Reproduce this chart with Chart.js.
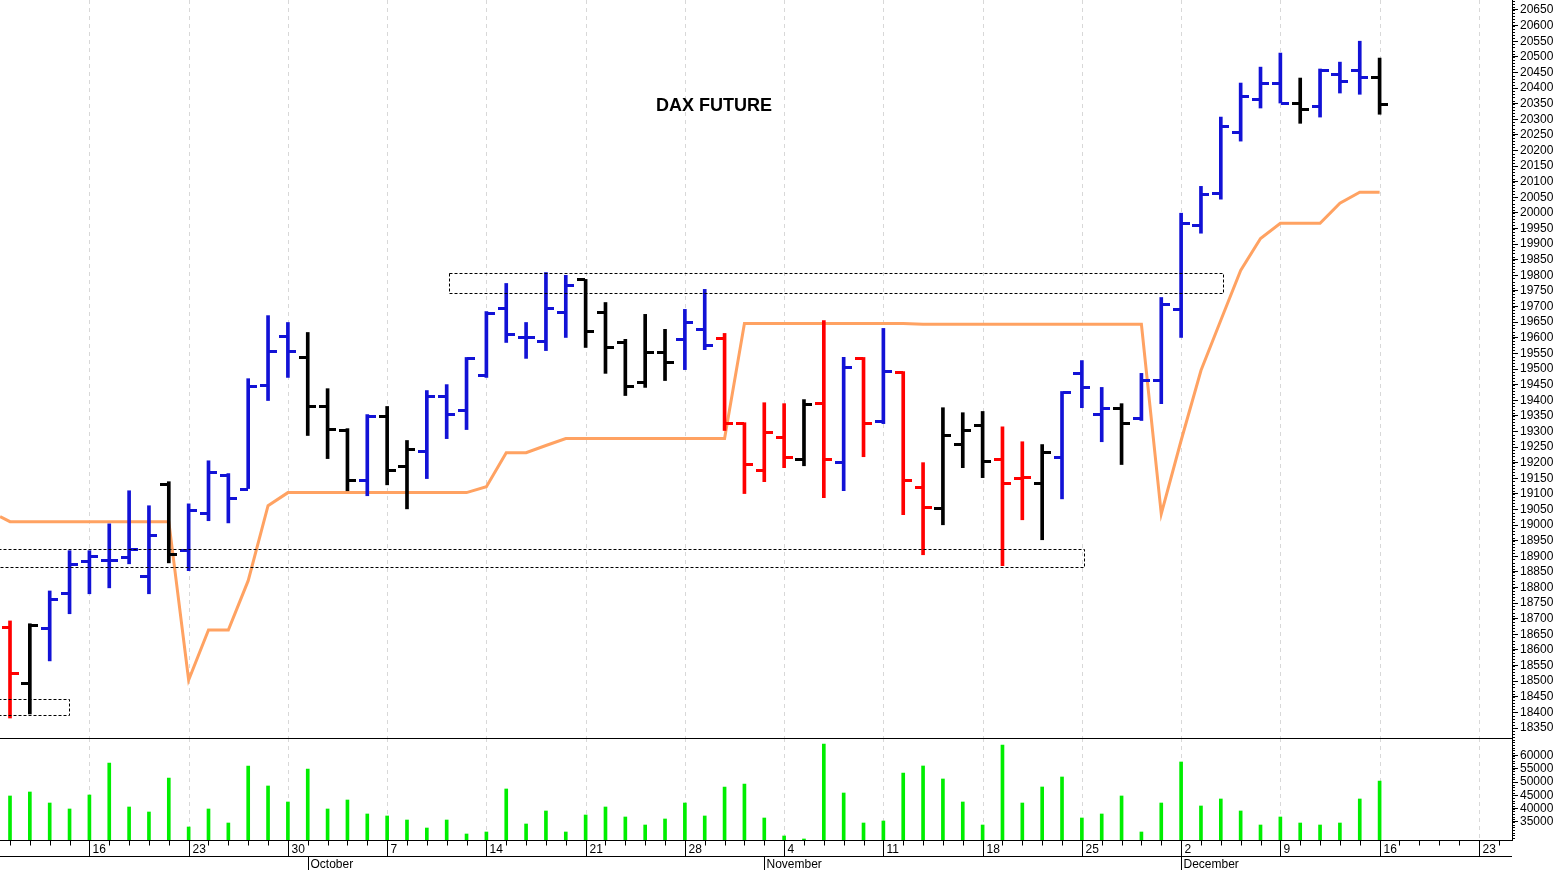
<!DOCTYPE html>
<html><head><meta charset="utf-8">
<script src="https://cdn.jsdelivr.net/npm/chart.js@4"></script>
<style>
html,body{margin:0;padding:0;background:#fff;width:1560px;height:870px;overflow:hidden}
#p{position:absolute;left:0;top:0}
#v{position:absolute;left:0;top:738px}
</style></head><body>
<canvas id="p" width="1560" height="738"></canvas>
<canvas id="v" width="1560" height="132"></canvas>
<script>
// ---- data (Sep 10 .. Dec 16, trading days) ----
const opens  = [18674,18494,18671,18783,18886,18889,18898,18837,19133,18921,19040,19161,19117,19450,19607,19540,19380,19303,19145,19348,19190,19238,19415,19370,19482,19694,19601,19591,19681,19787,19681,19585,19457,19553,19595,19627,19598,19328,19177,19283,19213,19392,19203,19534,19335,19489,19123,19056,19261,19322,19213,19152,19136,19219,19486,19357,19376,19344,19466,19691,19960,20063,20259,20364,20416,20352,20342,20445,20457,20435];
const highs  = [18693,18684,18789,18918,18918,19004,19110,19062,19139,19068,19206,19165,19469,19671,19649,19617,19437,19309,19354,19380,19271,19431,19450,19537,19684,19774,19649,19809,19800,19787,19713,19595,19675,19627,19691,19755,19614,19328,19392,19389,19402,19655,19537,19537,19630,19492,19200,19376,19360,19364,19315,19267,19258,19428,19527,19441,19389,19486,19729,19999,20085,20307,20416,20467,20512,20432,20461,20483,20550,20496];
const lows   = [18382,18395,18565,18716,18780,18799,18876,18780,18879,18854,19014,19007,19117,19399,19473,19287,19213,19110,19094,19129,19052,19149,19277,19306,19473,19585,19534,19559,19601,19569,19486,19415,19441,19463,19498,19562,19303,19101,19139,19184,19190,19088,19110,19219,19325,19033,18905,19001,19184,19152,18870,19017,18953,19084,19376,19267,19194,19335,19389,19601,19935,20044,20230,20336,20352,20287,20307,20384,20380,20316];
const closes = [18526,18680,18764,18876,18902,18889,18924,18969,18908,19049,19171,19088,19444,19559,19559,19380,19309,19145,19351,19177,19245,19415,19357,19534,19678,19611,19601,19694,19768,19623,19572,19444,19553,19521,19649,19578,19328,19197,19299,19219,19389,19213,19508,19328,19495,19145,19059,19287,19303,19206,19136,19155,19235,19425,19441,19376,19328,19466,19707,19967,20060,20278,20374,20416,20352,20332,20457,20422,20435,20348];
const barColors = "rkbbbbbbkbbbbbbkkkbkkbbbbbbbbkkkkkbbrrrrkrbrbrrkkkrrkbbbkbbbbbbbbkbbbk";
const stopX    = [-0.5];
const stopPre  = [19027];
const stopLine = [19011,19011,19011,19011,19011,19011,19011,19011,19011,18504,18664,18664,18822,19062,19104,19104,19104,19104,19104,19104,19104,19104,19104,19104,19123,19232,19232,19255,19277,19277,19277,19277,19277,19277,19277,19277,19277,19646,19646,19646,19646,19646,19646,19646,19646,19646,19643,19643,19643,19643,19643,19643,19643,19643,19643,19643,19643,19643,19036,19271,19495,19656,19816,19918,19967,19967,19967,20031,20066,20066];
const volumes = [44780,46280,42140,39890,45150,57180,40640,38760,51540,33120,39890,34620,56060,48540,42520,54930,39890,43270,38010,37260,35750,32740,35750,30490,31240,47410,34250,39140,31240,37630,40640,36880,33870,36130,42140,37260,48160,49290,36500,29740,28610,64330,45900,34620,35380,53420,56060,51170,42520,33870,63950,42140,48160,51920,36500,38010,44780,31240,42140,57560,41020,43650,39140,33870,36880,34620,33870,34620,43650,50420];
const mondayIdx = [4,9,14,19,24,29,34,39,44,49,54,59,64,69,74];
const mondayLabels = ["16","23","30","7","14","21","28","4","11","18","25","2","9","16","23"];
const monthIdx = [15,38,59];
const monthLabels = ["October","November","December"];
const boxes = [[-0.6,2.97,18443,18392],[-0.6,54.1,18924,18866],[22.1,61.1,19806,19745]];
const priceTicks = []; for(let p=18350;p<=20650;p+=50) priceTicks.push(p);
const volTicks = [35000,40000,45000,50000,55000,60000];
const title = "DAX FUTURE";

const XMIN=-0.504, XMAX=75.67, AXW=48;
const FONT='"Liberation Sans", Arial, sans-serif';
const col = c => c==='r'?'#ff0000':(c==='b'?'#1212d6':'#000000');
const idx = opens.map((_,i)=>i);

function gridPlugin(){
  return {id:'grid',beforeDatasetsDraw(ch){
    const c=ch.ctx,x=ch.scales.x,a=ch.chartArea;
    c.save();c.strokeStyle='#d8d8d8';c.lineWidth=1;c.setLineDash([4,4]);
    mondayIdx.forEach(i=>{const px=Math.round(x.getPixelForValue(i))+0.5;c.beginPath();c.moveTo(px,a.top);c.lineTo(px,a.bottom);c.stroke();});
    c.restore();
  }};
}
function minorTicks(ch,axisId,step,lo,hi){
  const c=ch.ctx,y=ch.scales[axisId],a=ch.chartArea;
  c.save();c.strokeStyle='#000';c.lineWidth=1;
  for(let v=lo;v<=hi;v+=step){const py=Math.round(y.getPixelForValue(v))+0.5;c.beginPath();c.moveTo(a.right,py);c.lineTo(a.right+3,py);c.stroke();}
  c.restore();
}
const yTickOpts = {font:{family:FONT,size:12},color:'#000',padding:2,autoSkip:false,callback:v=>String(v)};
const fitY = ax => {ax.width=AXW;ax.paddingTop=0;ax.paddingBottom=0;};

const stopData = stopX.map((x,k)=>({x,y:stopPre[k]})).concat(idx.map(i=>({x:i,y:stopLine[i]})));

const priceChart = new Chart(document.getElementById('p'),{
  data:{datasets:[
    {type:'line',data:stopData,borderColor:'#ffa262',borderWidth:3,pointRadius:0,tension:0,order:2},
    {type:'bar',data:idx.map(i=>({x:i,y:[lows[i],highs[i]]})),backgroundColor:idx.map(i=>col(barColors[i])),barThickness:3,borderWidth:0,order:1}
  ]},
  options:{responsive:false,animation:false,devicePixelRatio:1,
    layout:{padding:0},
    plugins:{legend:{display:false},tooltip:{enabled:false}},
    scales:{
      x:{type:'linear',min:XMIN,max:XMAX,offset:false,display:false},
      y:{position:'right',min:18318,max:20682,
         afterBuildTicks(ax){ax.ticks=priceTicks.map(v=>({value:v}));},
         afterFit:fitY,
         grid:{drawOnChartArea:false,tickLength:6,color:'#000'},
         border:{color:'#000'},
         ticks:yTickOpts}
    }},
  plugins:[gridPlugin(),{id:'ohlc',afterDatasetsDraw(ch){
    const c=ch.ctx,x=ch.scales.x,y=ch.scales.y;
    c.save();
    idx.forEach(i=>{
      c.fillStyle=col(barColors[i]);
      const px=x.getPixelForValue(i);
      const po=Math.round(y.getPixelForValue(opens[i])), pc=Math.round(y.getPixelForValue(closes[i]));
      c.fillRect(Math.round(px-1.5)-7,po-1,8,3);
      c.fillRect(Math.round(px-1.5)+2,pc-1,8,3);
    });
    c.strokeStyle='#000';c.lineWidth=1;c.setLineDash([3,2]);
    boxes.forEach(b=>{
      const x1=Math.round(x.getPixelForValue(b[0]))+0.5,x2=Math.round(x.getPixelForValue(b[1]))+0.5;
      const y1=Math.round(y.getPixelForValue(b[2]))+0.5,y2=Math.round(y.getPixelForValue(b[3]))+0.5;
      c.strokeRect(x1,y1,x2-x1,y2-y1);
    });
    c.setLineDash([]);
    c.fillStyle='#000';c.font='bold 18px '+FONT;c.textAlign='center';c.textBaseline='middle';
    c.fillText(title,714,106);
    c.restore();
  },afterDraw(ch){minorTicks(ch,'y',10,18320,20680);}}]
});

const volChart = new Chart(document.getElementById('v'),{
  data:{datasets:[
    {type:'bar',data:idx.map(i=>({x:i,y:volumes[i]})),backgroundColor:'#00ee00',barThickness:3,borderWidth:0}
  ]},
  options:{responsive:false,animation:false,devicePixelRatio:1,
    layout:{padding:{top:0,bottom:30}},
    plugins:{legend:{display:false},tooltip:{enabled:false}},
    scales:{
      x:{type:'linear',min:XMIN,max:XMAX,offset:false,display:false},
      y:{position:'right',min:28230,max:66580,
         afterBuildTicks(ax){ax.ticks=volTicks.map(v=>({value:v}));},
         afterFit:fitY,
         grid:{drawOnChartArea:false,tickLength:6,color:'#000'},
         border:{color:'#000'},
         ticks:yTickOpts}
    }},
  plugins:[gridPlugin(),{id:'xaxis',afterDraw(ch){
    const c=ch.ctx,x=ch.scales.x,a=ch.chartArea,H=ch.height;
    c.save();c.strokeStyle='#000';c.fillStyle='#000';c.lineWidth=1;
    c.beginPath();c.moveTo(0,0.5);c.lineTo(a.right,0.5);c.stroke();
    const b=Math.round(a.bottom)+0.5;
    c.beginPath();c.moveTo(0,b);c.lineTo(a.right,b);c.stroke();
    const l2=b+16;
    c.beginPath();c.moveTo(0,l2);c.lineTo(a.right,l2);c.stroke();
    for(let i=0;i<=75;i++){const px=Math.round(x.getPixelForValue(i))+0.5;c.beginPath();c.moveTo(px,b);c.lineTo(px,b+5);c.stroke();}
    c.font='12px '+FONT;c.textBaseline='middle';c.textAlign='left';
    mondayIdx.forEach((i,k)=>{const px=Math.round(x.getPixelForValue(i))+0.5;c.beginPath();c.moveTo(px,b);c.lineTo(px,l2);c.stroke();c.fillText(mondayLabels[k],px+3,b+9);});
    monthIdx.forEach((i,k)=>{const px=Math.round(x.getPixelForValue(i))+0.5;c.beginPath();c.moveTo(px,l2);c.lineTo(px,H);c.stroke();c.fillText(monthLabels[k],px+2,l2+8);});
    c.restore();
    minorTicks(ch,'y',1000,29000,66000);
  }}]
});
</script></body></html>
